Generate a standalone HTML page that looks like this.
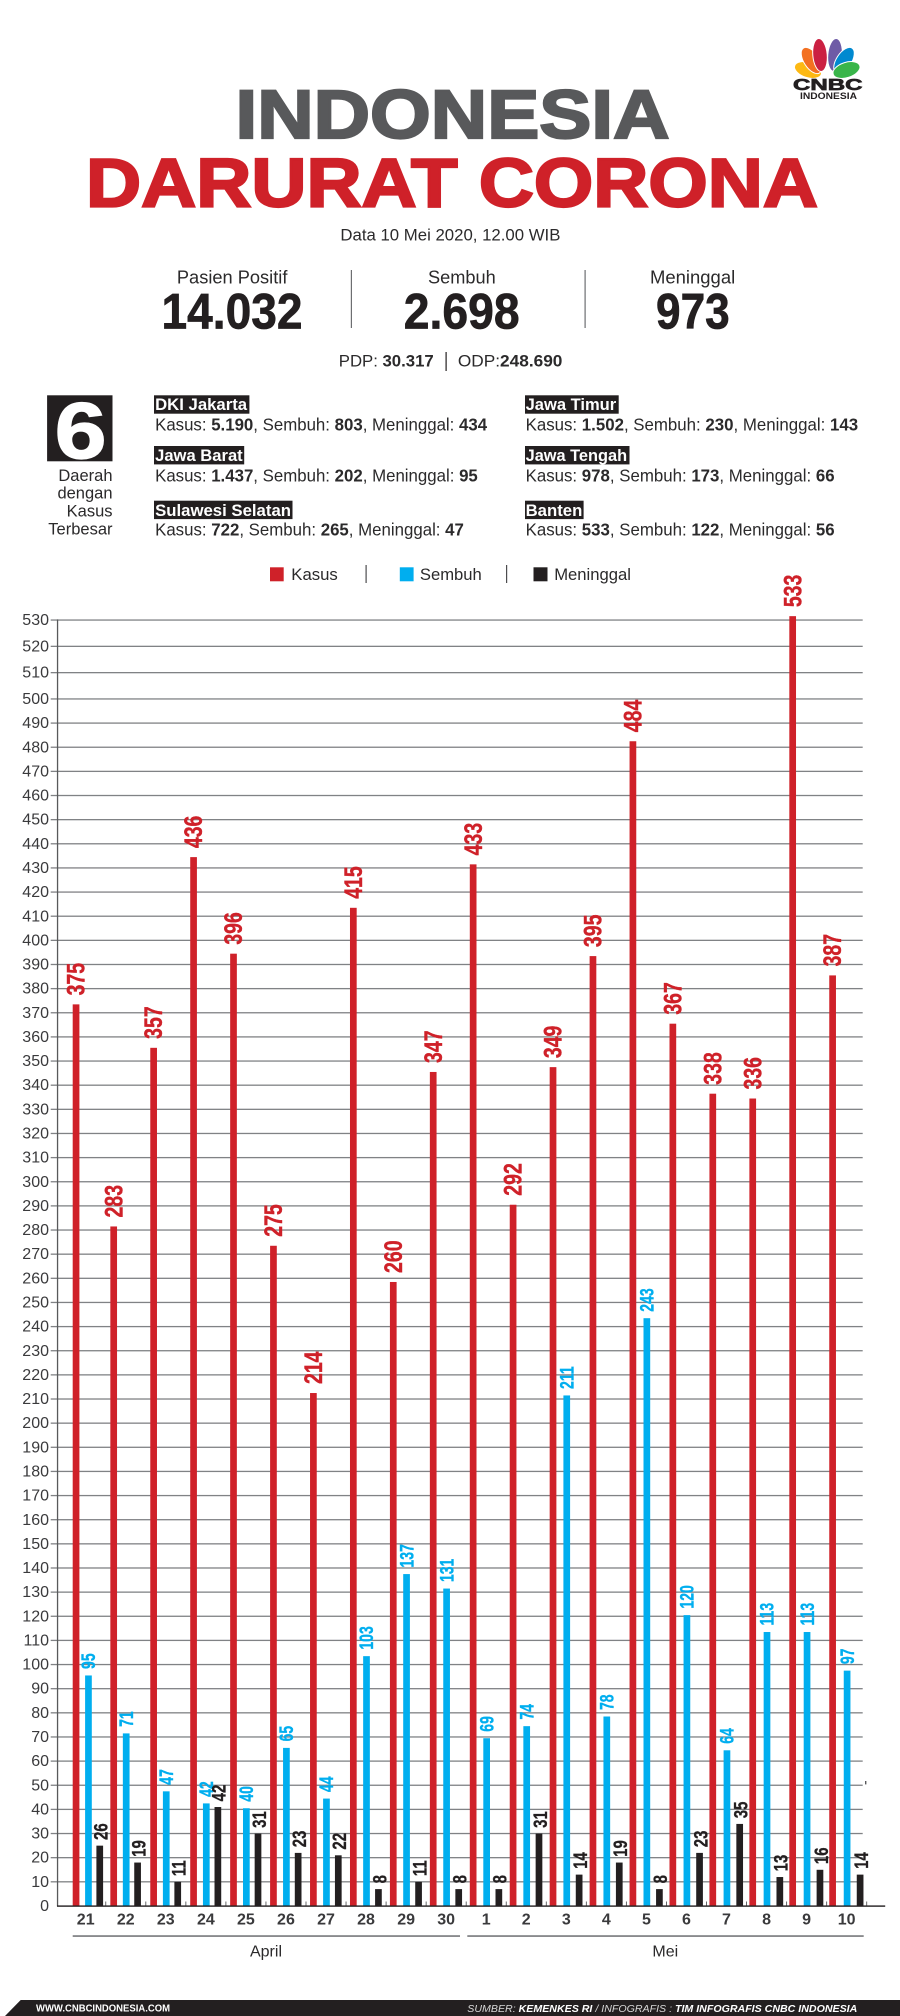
<!DOCTYPE html>
<html lang="id">
<head>
<meta charset="utf-8">
<title>Indonesia Darurat Corona</title>
<style>
html,body{margin:0;padding:0;background:#fff;width:900px;height:2016px;overflow:hidden}
svg{display:block}
text{font-family:"Liberation Sans",Arial,sans-serif}
.lbl{fill:#2b2a2b;font-size:18.5px}
.reg-t{fill:#fff;font-size:16.8px;font-weight:bold}
.reg-l{fill:#2b2a2b;font-size:17.3px}
.b{font-weight:bold}
</style>
</head>
<body>
<svg id="page" xmlns="http://www.w3.org/2000/svg" width="900" height="2016" viewBox="0 0 900 2016">
<rect width="900" height="2016" fill="#fff"/>

<g>
  <g stroke="#fff" stroke-width="1">
    <ellipse cx="808" cy="70" rx="14" ry="7.6" transform="rotate(18 808 70)" fill="#fdb913"/>
    <ellipse cx="811.5" cy="60.5" rx="7.6" ry="14.8" transform="rotate(-33 811.5 60.5)" fill="#f37021"/>
    <ellipse cx="820" cy="55" rx="7.2" ry="16.5" transform="rotate(-5 820 55)" fill="#cb2042"/>
    <ellipse cx="835" cy="55" rx="7.2" ry="16.5" transform="rotate(5 835 55)" fill="#6e5ba6"/>
    <ellipse cx="844" cy="60.5" rx="7.6" ry="14.8" transform="rotate(33 844 60.5)" fill="#0089d0"/>
    <ellipse cx="846.5" cy="70" rx="14" ry="7.6" transform="rotate(-18 846.5 70)" fill="#39b54a"/>
  </g>
  <text x="793" y="90" font-size="16" font-weight="bold" fill="#231f20" stroke="#231f20" stroke-width=".7" textLength="69.5" lengthAdjust="spacingAndGlyphs">CNBC</text>
  <text x="800" y="99" font-size="8.8" font-weight="bold" fill="#231f20" textLength="57" lengthAdjust="spacingAndGlyphs">INDONESIA</text>
</g>

<text x="235.5" y="137.8" font-size="69" font-weight="bold" fill="#58595b" stroke="#58595b" stroke-width="2.2" textLength="434" lengthAdjust="spacingAndGlyphs">INDONESIA</text>
<text x="86" y="206.5" font-size="69" font-weight="bold" fill="#cf2129" stroke="#cf2129" stroke-width="2.2" textLength="732" lengthAdjust="spacingAndGlyphs">DARURAT CORONA</text>
<text x="340.4" y="240.5" font-size="16.4" fill="#2b2a2b" textLength="220" lengthAdjust="spacingAndGlyphs">Data 10 Mei 2020, 12.00 WIB</text>

<g>
  <text x="176.9" y="283.5" class="lbl" textLength="110.5" lengthAdjust="spacingAndGlyphs">Pasien Positif</text>
  <text x="428" y="283.5" class="lbl" textLength="67.7" lengthAdjust="spacingAndGlyphs">Sembuh</text>
  <text x="650" y="283.5" class="lbl" textLength="85.2" lengthAdjust="spacingAndGlyphs">Meninggal</text>
  <rect x="350.8" y="270" width="1.2" height="58" fill="#6d6e71"/>
  <rect x="584.5" y="270" width="1.2" height="58" fill="#6d6e71"/>
  <text x="161.5" y="328.7" font-size="50.5" font-weight="bold" fill="#231f20" stroke="#231f20" stroke-width=".7" textLength="141" lengthAdjust="spacingAndGlyphs">14.032</text>
  <text x="403.7" y="328.7" font-size="50.5" font-weight="bold" fill="#231f20" stroke="#231f20" stroke-width=".7" textLength="115.9" lengthAdjust="spacingAndGlyphs">2.698</text>
  <text x="656" y="328.7" font-size="50.5" font-weight="bold" fill="#231f20" stroke="#231f20" stroke-width=".7" textLength="73.7" lengthAdjust="spacingAndGlyphs">973</text>
  <text x="338.8" y="366.5" font-size="16.7" fill="#2b2a2b" textLength="94.9" lengthAdjust="spacingAndGlyphs">PDP: <tspan class="b">30.317</tspan></text>
  <rect x="445.5" y="352" width="1.2" height="19" fill="#231f20"/>
  <text x="457.9" y="366.5" font-size="16.7" fill="#2b2a2b" textLength="104.5" lengthAdjust="spacingAndGlyphs">ODP:<tspan class="b">248.690</tspan></text>
</g>

<g>
  <rect x="47.1" y="395.3" width="65.4" height="66" fill="#231f20"/>
  <text x="54.7" y="458" font-size="80" font-weight="bold" fill="#fff" stroke="#fff" stroke-width="1.2" textLength="52" lengthAdjust="spacingAndGlyphs">6</text>
  <g font-size="16.5" fill="#2b2a2b" text-anchor="end">
    <text x="112.5" y="481">Daerah</text>
    <text x="112.5" y="498.5">dengan</text>
    <text x="112.5" y="516.5">Kasus</text>
    <text x="112.5" y="534.5">Terbesar</text>
  </g>

  <rect x="154" y="395.3" width="95.4" height="18.4" fill="#231f20"/>
  <text x="155.1" y="410" class="reg-t" textLength="92" lengthAdjust="spacingAndGlyphs">DKI Jakarta</text>
  <text x="155.1" y="430.3" class="reg-l" textLength="332" lengthAdjust="spacingAndGlyphs">Kasus: <tspan class="b">5.190</tspan>, Sembuh: <tspan class="b">803</tspan>, Meninggal: <tspan class="b">434</tspan></text>

  <rect x="154" y="446" width="90.2" height="18.4" fill="#231f20"/>
  <text x="155.1" y="461" class="reg-t" textLength="87.6" lengthAdjust="spacingAndGlyphs">Jawa Barat</text>
  <text x="155.1" y="481.7" class="reg-l" textLength="322.7" lengthAdjust="spacingAndGlyphs">Kasus: <tspan class="b">1.437</tspan>, Sembuh: <tspan class="b">202</tspan>, Meninggal: <tspan class="b">95</tspan></text>

  <rect x="154" y="500.7" width="138.5" height="18.4" fill="#231f20"/>
  <text x="155.1" y="516" class="reg-t" textLength="135.9" lengthAdjust="spacingAndGlyphs">Sulawesi Selatan</text>
  <text x="155.1" y="535.3" class="reg-l" textLength="308.8" lengthAdjust="spacingAndGlyphs">Kasus: <tspan class="b">722</tspan>, Sembuh: <tspan class="b">265</tspan>, Meninggal: <tspan class="b">47</tspan></text>

  <rect x="525" y="395.3" width="93.7" height="18.4" fill="#231f20"/>
  <text x="525.6" y="410" class="reg-t" textLength="90.6" lengthAdjust="spacingAndGlyphs">Jawa Timur</text>
  <text x="525.6" y="430.3" class="reg-l" textLength="332.5" lengthAdjust="spacingAndGlyphs">Kasus: <tspan class="b">1.502</tspan>, Sembuh: <tspan class="b">230</tspan>, Meninggal: <tspan class="b">143</tspan></text>

  <rect x="525" y="446" width="104.5" height="18.4" fill="#231f20"/>
  <text x="525.6" y="461" class="reg-t" textLength="101.5" lengthAdjust="spacingAndGlyphs">Jawa Tengah</text>
  <text x="525.6" y="481.7" class="reg-l" textLength="309" lengthAdjust="spacingAndGlyphs">Kasus: <tspan class="b">978</tspan>, Sembuh: <tspan class="b">173</tspan>, Meninggal: <tspan class="b">66</tspan></text>

  <rect x="525" y="500.7" width="58.6" height="18.4" fill="#231f20"/>
  <text x="525.6" y="516" class="reg-t" textLength="56.7" lengthAdjust="spacingAndGlyphs">Banten</text>
  <text x="525.6" y="535.3" class="reg-l" textLength="309" lengthAdjust="spacingAndGlyphs">Kasus: <tspan class="b">533</tspan>, Sembuh: <tspan class="b">122</tspan>, Meninggal: <tspan class="b">56</tspan></text>
</g>

<g font-size="16.7" fill="#2b2a2b">
  <rect x="270" y="567.3" width="13.7" height="14" fill="#cf2129"/>
  <text x="291.3" y="580" textLength="46.5" lengthAdjust="spacingAndGlyphs">Kasus</text>
  <rect x="365.5" y="565" width="1.2" height="18" fill="#4d4d4f"/>
  <rect x="399.8" y="567.3" width="13.8" height="14" fill="#00aeef"/>
  <text x="419.9" y="580" textLength="61.9" lengthAdjust="spacingAndGlyphs">Sembuh</text>
  <rect x="506" y="565" width="1.2" height="18" fill="#4d4d4f"/>
  <rect x="533.5" y="567.3" width="14" height="14" fill="#231f20"/>
  <text x="554.2" y="580" textLength="76.8" lengthAdjust="spacingAndGlyphs">Meninggal</text>
</g>

<g id="chart"></g>

<g>
  <polygon points="20.7,2000 900,2000 900,2016 5,2016" fill="#231f20"/>
  <text x="36" y="2011.5" font-size="10" font-weight="bold" fill="#fff" textLength="134" lengthAdjust="spacingAndGlyphs">WWW.CNBCINDONESIA.COM</text>
  <text x="467.3" y="2012" font-size="10.5" font-style="italic" fill="#d8d8d8" textLength="390" lengthAdjust="spacingAndGlyphs">SUMBER: <tspan font-weight="bold" fill="#fff">KEMENKES RI</tspan>  / INFOGRAFIS : <tspan font-weight="bold" fill="#fff">TIM INFOGRAFIS CNBC INDONESIA</tspan></text>
</g>
</svg>

<script>
const days = [21,22,23,24,25,26,27,28,29,30,1,2,3,4,5,6,7,8,9,10];
const kasus = [375,283,357,436,396,275,214,415,260,347,433,292,349,395,484,367,338,336,533,387];
const sembuh = [95,71,47,42,40,65,44,103,137,131,69,74,211,78,243,120,64,113,113,97];
const meninggal = [26,19,11,42,31,23,22,8,11,8,8,31,14,19,8,23,35,13,16,14];
const yTicks = [0,10,20,30,40,50,60,70,80,90,100,110,120,130,140,150,160,170,180,190,200,210,220,230,240,250,260,270,280,290,300,310,320,330,340,350,360,370,380,390,400,410,420,430,440,450,460,470,480,490,500,510,520,530];
const months = ['April','Mei'];

const NS = 'http://www.w3.org/2000/svg';
const chart = document.getElementById('chart');

function make(tag, attrs, text) {
  const el = document.createElementNS(NS, tag);
  for (const k in attrs) el.setAttribute(k, attrs[k]);
  if (text !== undefined) el.textContent = text;
  chart.appendChild(el);
  return el;
}

// value axis: linear to 500, the artwork stretches slightly above that
function yScale(v) {
  if (v <= 500) return 1906 - 2.414 * v;
  return 699 - (v - 500) * 2.63;
}
// group axis: position of the first bar in a day group
function groupX(i) {
  return 70.4 + 39.94 * i + (i === 0 ? 2.3 : 0);
}
function xKasus(i) { return groupX(i); }
function xSembuh(i) { return groupX(i) + 12.4 + 0.11 * i; }
function xMeninggal(i) { return groupX(i) + 23.7 + 0.2 * i; }
function xDay(i) { return 85.7 + 40.05 * i; }

const BAR_W = 6.7;
const AXIS_LEFT = 57.5;
const GRID_RIGHT = 862.7;

yTicks.forEach(function (t) {
  const y = yScale(t);
  if (t > 0) {
    const line = make('rect', {x: 50.7, y: y - 0.7, width: GRID_RIGHT - 50.7, height: 1.3, fill: '#808285'});
    
    
  }
  const lab = make('text', {x: 49, y: y + 5, 'text-anchor': 'end', 'font-size': 16, fill: '#3a3a3c'}, String(t));
  
  
});

const yAxis = make('rect', {x: AXIS_LEFT - 0.6, y: yScale(530) - 0.7, width: 1.3, height: yScale(0) - yScale(530) + 1, fill: '#58595b'});



function drawSeries(values, xFn, color, dropUnits, name, fontSize, squeeze, gap, labelShift, weight) {
  values.forEach(function (v, i) {
    const top = yScale(v - dropUnits);
    const x = xFn(i);
    const bar = make('rect', {x: x, y: top, width: BAR_W, height: yScale(0) - top, fill: color});
    
    
    const bx = x + BAR_W / 2 + fontSize * 0.344 + labelShift;
    const by = top - gap;
    const lab = make('text', {
      transform: 'translate(' + bx + ',' + by + ') rotate(-90) scale(' + squeeze + ',1)',
      'font-size': fontSize, 'font-weight': 'bold', fill: color, stroke: color, 'stroke-width': weight
    }, String(v));
    
    
  });
}

drawSeries(kasus, xKasus, '#cf2129', 1.5, 'kasus', 25, 0.78, 9, 0, 0.4);
drawSeries(sembuh, xSembuh, '#00aeef', -0.5, 'sembuh', 19.5, 0.72, 6.5, 0, 0.35);
drawSeries(meninggal, xMeninggal, '#231f20', 1, 'meninggal', 19, 0.79, 5.7, 1.3, 0.3);

const baseline = make('rect', {x: AXIS_LEFT - 0.5, y: 1905.4, width: 885.7 - AXIS_LEFT, height: 1.4, fill: '#231f20'});



days.forEach(function (d, i) {
  const tick = make('rect', {x: 105.3 + 40.05 * i, y: 1901.5, width: 0.9, height: 4, fill: '#58595b'});
  
  
  const lab = make('text', {x: xDay(i), y: 1924.5, 'text-anchor': 'middle', 'font-size': 16, 'font-weight': 'bold', fill: '#3a3a3c'}, String(d));
  
  
});

const aprilLine = make('rect', {x: 72.7, y: 1935.3, width: 387.3, height: 1.5, fill: '#6d6e71'});


const meiLine = make('rect', {x: 467.3, y: 1935.3, width: 396.4, height: 1.5, fill: '#6d6e71'});


const aprilLabel = make('text', {x: 266, y: 1956.5, 'text-anchor': 'middle', 'font-size': 16, fill: '#2b2a2b'}, months[0]);


const meiLabel = make('text', {x: 665.3, y: 1956.5, 'text-anchor': 'middle', 'font-size': 16, fill: '#2b2a2b'}, months[1]);


const stray = make('rect', {x: 865, y: 1781, width: 1.4, height: 3.4, fill: '#58595b'});


</script>
</body>
</html>
